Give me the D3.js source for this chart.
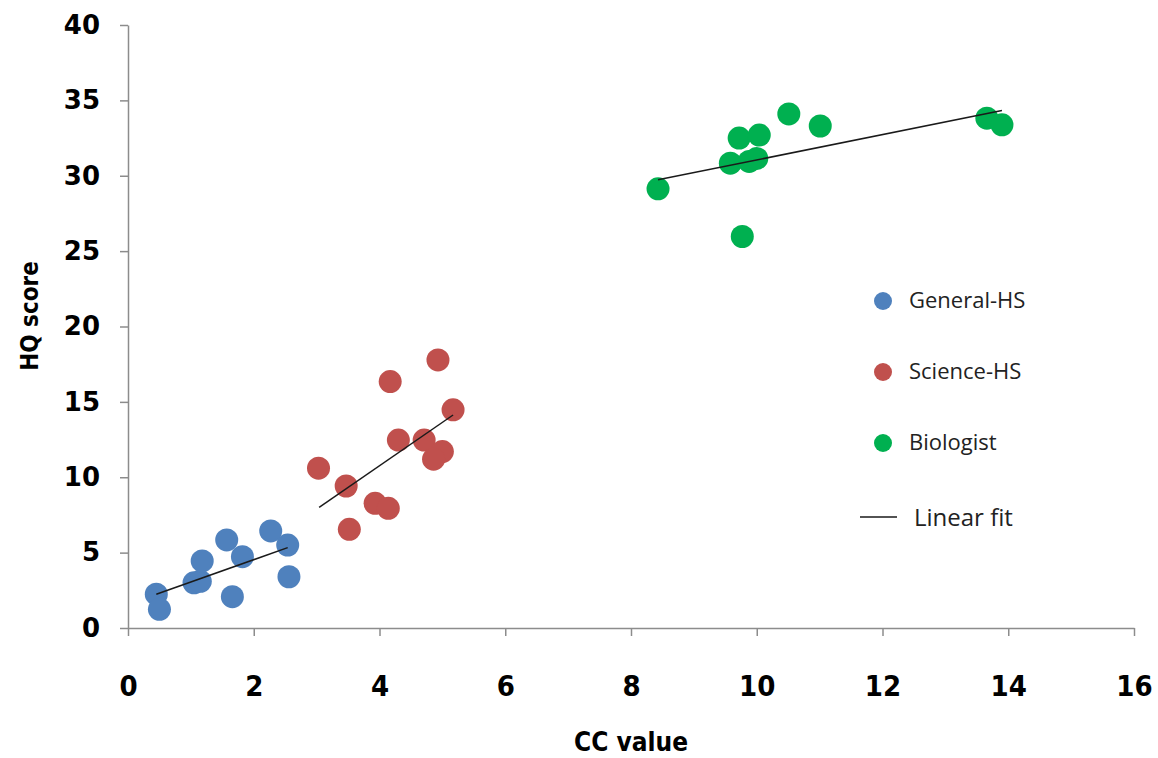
<!DOCTYPE html>
<html>
<head>
<meta charset="utf-8">
<script src="https://cdn.jsdelivr.net/npm/d3@7"></script>
<style>
  body { margin: 0; background: #fff; }
  svg { display: block; }
</style>
</head>
<body>
<svg id="chart" width="1158" height="758"></svg>
<script>
// values
const groups = ['General-HS', 'Science-HS', 'Biologist'];
const generalX = [0.45, 0.50, 1.05, 1.15, 1.18, 1.57, 1.82, 1.66, 2.27, 2.54, 2.56];
const generalY = [2.24, 1.24, 3.0, 3.1, 4.45, 5.84, 4.73, 2.08, 6.44, 5.5, 3.4];
const scienceX = [4.93, 4.17, 5.17, 4.30, 4.71, 5.0, 4.86, 3.03, 3.47, 3.93, 4.14, 3.52];
const scienceY = [17.78, 16.35, 14.47, 12.47, 12.47, 11.7, 11.2, 10.6, 9.42, 8.27, 7.94, 6.55];
const bioX = [8.43, 9.58, 9.88, 10.0, 9.72, 10.04, 10.51, 11.01, 13.66, 13.9, 9.77];
const bioY = [29.13, 30.83, 30.95, 31.15, 32.5, 32.7, 34.1, 33.3, 33.82, 33.38, 25.97];
// linear fits (slope, intercept) and the x span they cover
const fitSlope = [1.478, 2.878, 0.841];
const fitIntercept = [1.575, -0.75, 22.64];
const fitXmin = [0.45, 3.04, 8.43];
const fitXmax = [2.54, 5.17, 13.9];
const xTicks = [0, 2, 4, 6, 8, 10, 12, 14, 16];
const yTicks = [0, 5, 10, 15, 20, 25, 30, 35, 40];

const colors = ['#4F81BD', '#C0504D', '#00B050'];
const axisColor = '#8c8c8c';

const svg = d3.select('#chart');
const margin = {left: 128, top: 25, right: 24, bottom: 130};
const width = 1158 - margin.left - margin.right;
const height = 758 - margin.top - margin.bottom;

const x = d3.scaleLinear().domain([0, 16]).range([0, width]);
const y = d3.scaleLinear().domain([0, 40]).range([height, 0]);

const g = svg.append('g').attr('transform', `translate(${margin.left},${margin.top})`);

// axes
const yAxis = g.append('g')
    .call(d3.axisLeft(y).tickValues(yTicks).tickSize(8).tickPadding(20).tickSizeOuter(0));
yAxis.selectAll('text')
    .style('font-family', '"DejaVu Sans", Verdana, sans-serif')
    .style('font-weight', 'bold')
    .style('font-size', '26px')
    .attr('fill', '#000');

const xAxis = g.append('g')
    .attr('transform', `translate(0,${height})`)
    .call(d3.axisBottom(x).tickValues(xTicks).tickSize(8).tickPadding(39).tickSizeOuter(0));
xAxis.selectAll('text')
    .style('font-family', '"Liberation Sans Narrow", "DejaVu Sans Condensed", sans-serif')
    .style('font-stretch', 'condensed')
    .style('font-weight', 'bold')
    .style('font-size', '29px')
    .attr('fill', '#000');

[yAxis, xAxis].forEach(a => {
    a.select('.domain').attr('stroke', axisColor).attr('stroke-width', 1.5);
    a.selectAll('.tick line').attr('stroke', axisColor).attr('stroke-width', 1.5);
});

// axis titles
svg.append('text')
    .attr('x', margin.left + x(8))
    .attr('y', 751)
    .attr('text-anchor', 'middle')
    .style('font-family', '"Liberation Sans Narrow", "DejaVu Sans Condensed", sans-serif')
    .style('font-weight', 'bold')
    .style('font-size', '26px')
    .text('CC value');

svg.append('text')
    .attr('transform', 'translate(38,316) rotate(-90)')
    .attr('text-anchor', 'middle')
    .style('font-family', '"DejaVu Sans Condensed", "DejaVu Sans", sans-serif')
    .style('font-weight', 'bold')
    .style('font-size', '24px')
    .text('HQ score');

// points
const series = [
    generalX.map((v, i) => ({x: v, y: generalY[i], k: 0})),
    scienceX.map((v, i) => ({x: v, y: scienceY[i], k: 1})),
    bioX.map((v, i) => ({x: v, y: bioY[i], k: 2}))
];

series.forEach(s => {
    g.selectAll(null)
        .data(s)
        .enter().append('circle')
        .attr('cx', d => x(d.x))
        .attr('cy', d => y(d.y))
        .attr('r', 11.5)
        .attr('fill', d => colors[d.k]);
});

// fit lines
const line = d3.line().x(d => x(d[0])).y(d => y(d[1]));
groups.forEach((name, i) => {
    const pts = [fitXmin[i], fitXmax[i]].map(v => [v, fitSlope[i] * v + fitIntercept[i]]);
    g.append('path')
        .attr('d', line(pts))
        .attr('stroke', '#1a1a1a')
        .attr('stroke-width', 1.5)
        .attr('fill', 'none');
});

// legend
const legend = svg.append('g').attr('transform', 'translate(883,301)');
const legendFont = '"Open Sans", "Noto Sans", sans-serif';
groups.forEach((name, i) => {
    const row = legend.append('g').attr('transform', `translate(0,${i * 71})`);
    row.append('circle').attr('r', 9).attr('fill', colors[i]);
    row.append('text')
        .attr('x', 26)
        .attr('y', 7)
        .style('font-family', legendFont)
        .style('font-size', '22px')
        .attr('fill', '#222')
        .text(name);
});
const fitRow = legend.append('g').attr('transform', 'translate(0,216)');
fitRow.append('line')
    .attr('x1', -23).attr('x2', 14)
    .attr('stroke', '#1a1a1a').attr('stroke-width', 1.5);
fitRow.append('text')
    .attr('x', 31)
    .attr('y', 9)
    .style('font-family', legendFont)
    .style('font-size', '24px')
    .attr('fill', '#222')
    .text('Linear fit');
</script>
</body>
</html>
